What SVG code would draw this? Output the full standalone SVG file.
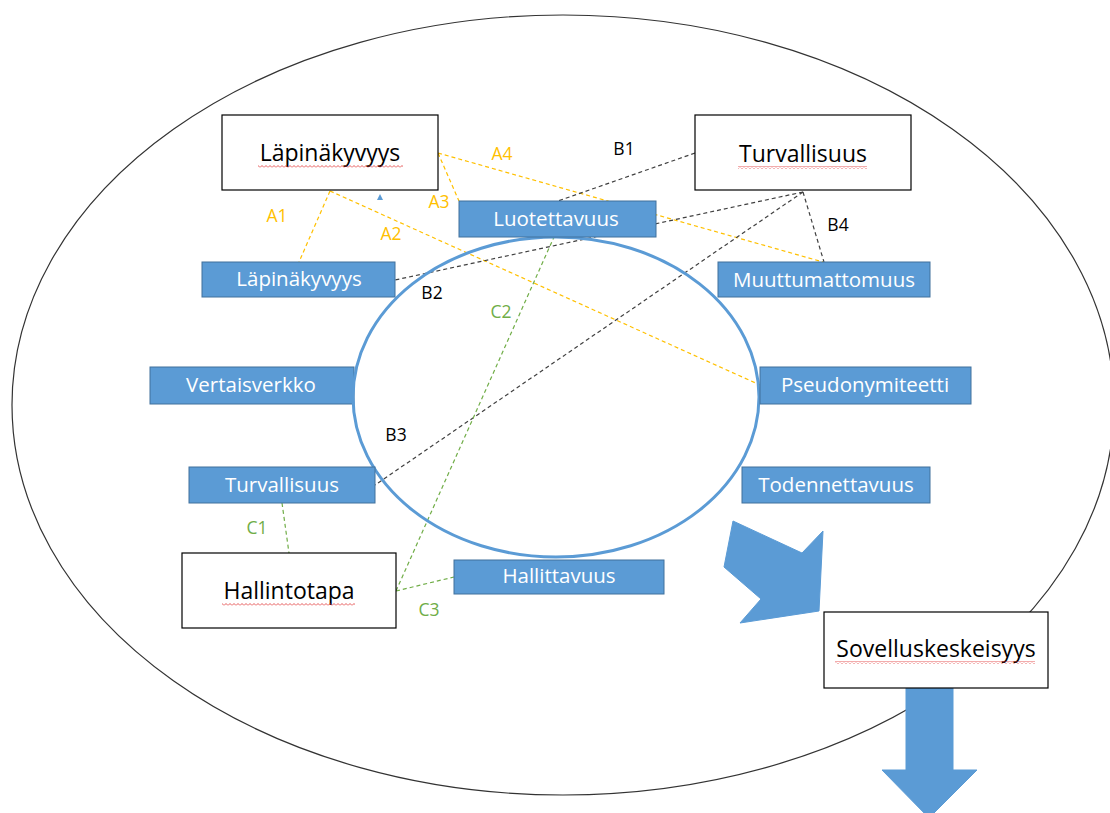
<svg xmlns="http://www.w3.org/2000/svg" width="1110" height="813" viewBox="0 0 1110 813">
<style>
.wb{fill:#fff;stroke:#000;stroke-width:1.2}
.bb{fill:#5b9bd5;stroke:#41719c;stroke-width:1}
.wt{font-family:"Open Sans","Liberation Sans",sans-serif;font-size:23px;fill:#000;text-anchor:middle}
.bt{font-family:"Open Sans","Liberation Sans",sans-serif;font-size:20.5px;fill:#fff;text-anchor:middle}
.lb{font-family:"Open Sans","Liberation Sans",sans-serif;font-size:17.5px;text-anchor:middle}
.y{stroke:#ffc000;stroke-width:1.2;stroke-dasharray:4 3;fill:none}
.k{stroke:#404040;stroke-width:1.2;stroke-dasharray:4 3;fill:none}
.g{stroke:#70ad47;stroke-width:1.2;stroke-dasharray:4 3;fill:none}
.arr{fill:#5b9bd5;stroke:#5b9bd5;stroke-width:1}
</style>
<defs>
<pattern id="squig" width="4" height="3" patternUnits="userSpaceOnUse">
<polyline points="0,2.5 2,0.5 4,2.5" fill="none" stroke="#e03030" stroke-width="0.8"/>
</pattern>
</defs>
<rect width="1110" height="813" fill="#fff"/>
<ellipse id="outer" cx="563" cy="405" rx="551" ry="390" fill="none" stroke="#333" stroke-width="1.2"/>

<g id="connectors">
<line class="y" x1="330" y1="191" x2="299" y2="262"/>
<line class="y" x1="330" y1="191" x2="760" y2="385"/>
<line class="y" x1="438" y1="153" x2="459" y2="201"/>
<line class="y" x1="438" y1="153" x2="823" y2="262"/>
<line class="k" x1="695" y1="153" x2="558" y2="201"/>
<line class="k" x1="803" y1="192" x2="395" y2="280"/>
<line class="k" x1="803" y1="192" x2="375" y2="485"/>
<line class="k" x1="803" y1="192" x2="824" y2="262"/>
<line class="g" x1="282" y1="503" x2="289" y2="553"/>
<line class="g" x1="396" y1="591" x2="554" y2="237"/>
<line class="g" x1="396" y1="591" x2="454" y2="577"/>
<text class="lb" x="277" y="222" fill="#ffc000">A1</text>
<text class="lb" x="391" y="240" fill="#ffc000">A2</text>
<text class="lb" x="439" y="208" fill="#ffc000">A3</text>
<text class="lb" x="502" y="160" fill="#ffc000">A4</text>
<text class="lb" x="624" y="155" fill="#000">B1</text>
<text class="lb" x="432" y="299" fill="#000">B2</text>
<text class="lb" x="396" y="441" fill="#000">B3</text>
<text class="lb" x="838" y="231" fill="#000">B4</text>
<text class="lb" x="257" y="534" fill="#70ad47">C1</text>
<text class="lb" x="501" y="318" fill="#70ad47">C2</text>
<text class="lb" x="429" y="616" fill="#70ad47">C3</text>
</g>

<g id="n-vertaisverkko"><rect class="bb" x="150" y="367" width="204" height="37"/><text class="bt" x="251" y="392">Vertaisverkko</text></g>
<ellipse id="inner" cx="556" cy="397" rx="203" ry="160" fill="none" stroke="#5b9bd5" stroke-width="3"/>

<g id="n-luotettavuus"><rect class="bb" x="459" y="201" width="197" height="36"/><text class="bt" x="556" y="226">Luotettavuus</text></g>
<g id="n-lapinakyvyys-b"><rect class="bb" x="202" y="262" width="193" height="35"/><text class="bt" x="299" y="286">Läpinäkyvyys</text></g>
<g id="n-muuttumattomuus"><rect class="bb" x="718" y="262" width="212" height="35"/><text class="bt" x="824" y="287">Muuttumattomuus</text></g>
<g id="n-pseudonymiteetti"><rect class="bb" x="760" y="367" width="211" height="37"/><text class="bt" x="865" y="392">Pseudonymiteetti</text></g>
<g id="n-turvallisuus-b"><rect class="bb" x="189" y="467" width="186" height="36"/><text class="bt" x="282" y="492">Turvallisuus</text></g>
<g id="n-todennettavuus"><rect class="bb" x="742" y="467" width="188" height="36"/><text class="bt" x="836" y="492">Todennettavuus</text></g>
<g id="n-hallittavuus"><rect class="bb" x="454" y="560" width="210" height="34"/><text class="bt" x="559" y="583">Hallittavuus</text></g>

<g id="n-lapinakyvyys"><rect class="wb" x="222" y="115" width="216" height="75"/><text class="wt" x="330" y="161">Läpinäkyvyys</text><rect x="258" y="165" width="145" height="3" fill="url(#squig)"/></g>
<polygon id="tri" points="377,200 383,200 380,194" fill="#5b9bd5"/>
<g id="n-turvallisuus"><rect class="wb" x="695" y="115" width="216" height="75"/><text class="wt" x="803" y="162">Turvallisuus</text><rect x="738" y="166" width="129" height="3" fill="url(#squig)"/></g>
<g id="n-hallintotapa"><rect class="wb" x="182" y="553" width="214" height="75"/><text class="wt" x="289" y="599">Hallintotapa</text><rect x="222" y="603" width="133" height="3" fill="url(#squig)"/></g>

<polygon id="arrow-diag" class="arr" points="733,521 802,553 823,531 819,611 740,623 761,599 724,567"/>
<polygon id="arrow-down" class="arr" points="906,688 953,688 953,770 977,770 929,818 882,770 906,770"/>
<g id="n-sovelluskeskeisyys"><rect class="wb" x="824" y="612" width="224" height="76"/><text class="wt" x="936" y="657">Sovelluskeskeisyys</text><rect x="835" y="661" width="200" height="3" fill="url(#squig)"/></g>
</svg>
